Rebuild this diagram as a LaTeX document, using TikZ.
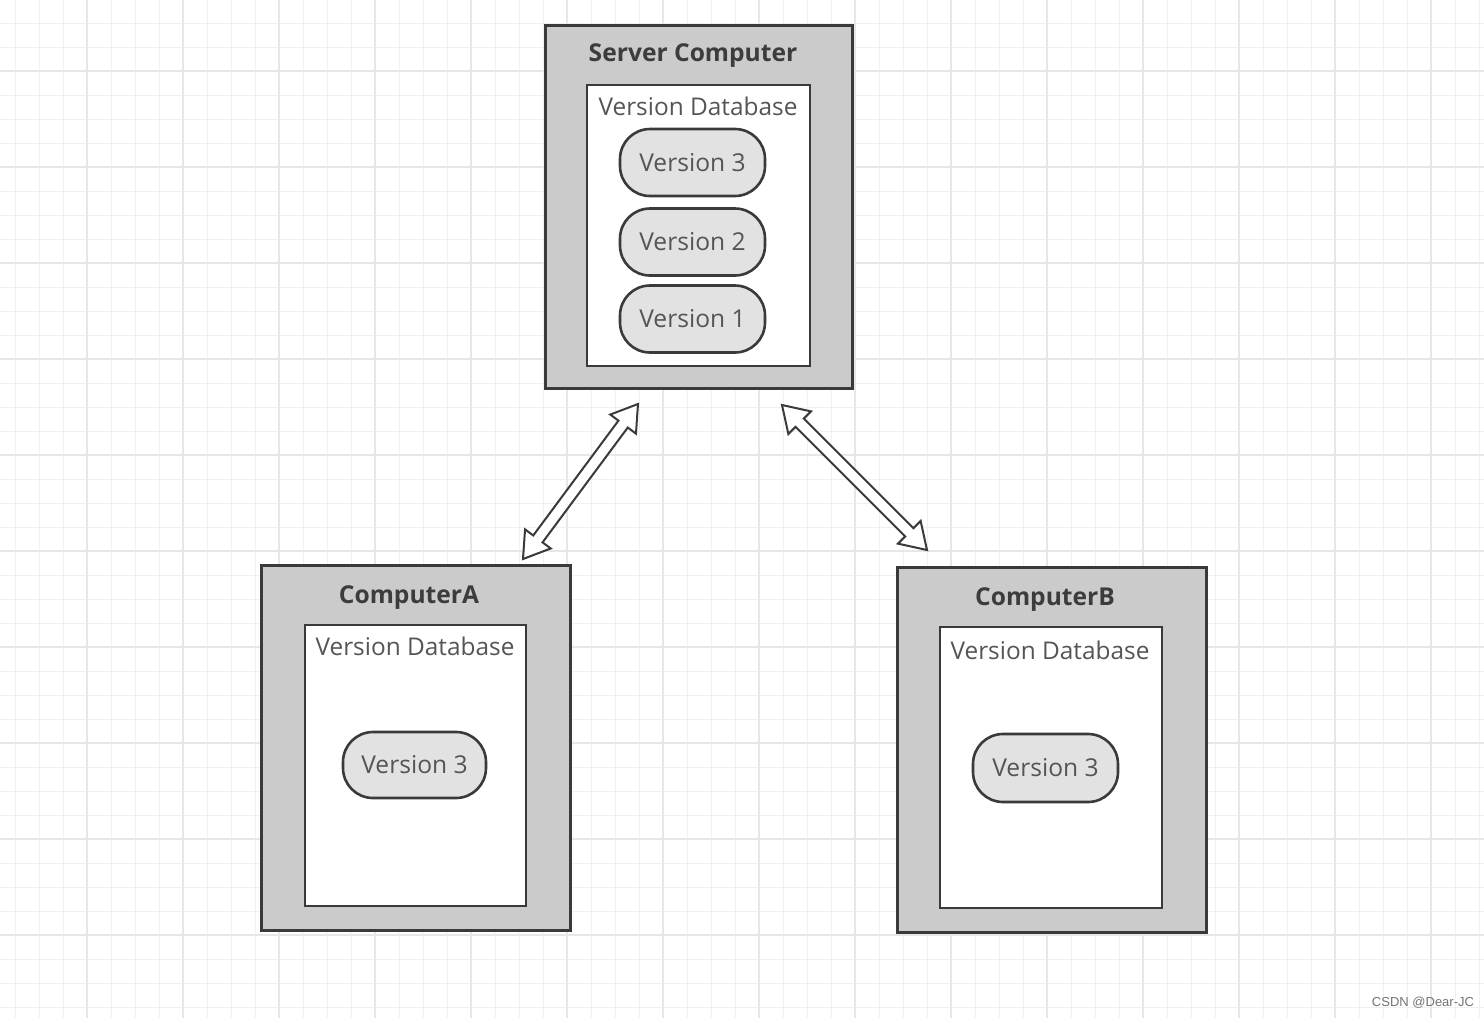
\documentclass[tikz,border=0pt]{standalone}
\usepackage{fontspec}
\setmainfont{Open Sans}
\newfontfamily\wmfont{Liberation Sans}
\usetikzlibrary{calc}
\definecolor{outergray}{HTML}{CBCBCB}
\definecolor{pillgray}{HTML}{E2E2E2}
\definecolor{boxline}{HTML}{3A3A3A}
\definecolor{txtgray}{HTML}{555555}
\definecolor{titlegray}{HTML}{3C3C3C}
\definecolor{gridminor}{HTML}{F0F0F0}
\definecolor{gridmajor}{HTML}{E7E7E7}
\tikzset{
  outerbox/.style={draw=boxline, fill=outergray, line width=1.5pt, inner sep=0pt},
  innerbox/.style={draw=boxline, fill=white, line width=1.3pt, inner sep=0pt},
  pill/.style={draw=boxline, fill=pillgray, line width=1.3pt, rounded corners=15pt, inner sep=0pt,
    font=\fontsize{12.3}{14}\selectfont, text=txtgray},
  titletext/.style={font=\fontsize{12.3}{14}\selectfont\bfseries, text=titlegray, inner sep=0pt},
  dbtext/.style={font=\fontsize{12.2}{14}\selectfont, text=txtgray, inner sep=0pt},
  hollow/.style={draw=boxline, fill=white, line width=1pt, line join=miter},
}
\newcommand\hollowarrow[2]{%
  \coordinate (#1-#2-h1) at ($(#1)!12.5pt!(#2)$);
  \coordinate (#1-#2-h2) at ($(#2)!12.5pt!(#1)$);
  \draw[hollow] (#1)
    -- ($(#1-#2-h1)!8pt!90:(#2)$) -- ($(#1-#2-h1)!2.9pt!90:(#2)$)
    -- ($(#1-#2-h2)!2.9pt!-90:(#1)$) -- ($(#1-#2-h2)!8pt!-90:(#1)$)
    -- (#2)
    -- ($(#1-#2-h2)!8pt!90:(#1)$) -- ($(#1-#2-h2)!2.9pt!90:(#1)$)
    -- ($(#1-#2-h1)!2.9pt!-90:(#2)$) -- ($(#1-#2-h1)!8pt!-90:(#2)$)
    -- cycle;}
\begin{document}
\begin{tikzpicture}[x=0.5pt,y=-0.5pt]
\useasboundingbox (0,0) rectangle (1484,1018);
\fill[white] (0,0) rectangle (1484,1018);
% grid
\foreach \gx in {15,39,...,1484} {\draw[gridminor, line width=0.5pt] (\gx,0) -- (\gx,1018);}
\foreach \gy in {23,47,...,1018} {\draw[gridminor, line width=0.5pt] (0,\gy) -- (1484,\gy);}
\foreach \gx in {87,183,...,1484} {\draw[gridmajor, line width=0.6pt] (\gx,0) -- (\gx,1018);}
\foreach \gy in {71,167,...,1018} {\draw[gridmajor, line width=0.6pt] (0,\gy) -- (1484,\gy);}

% Server
\node[outerbox, minimum width=153.5pt, minimum height=181.5pt] (server) at (698.5,206.5) {};
\node[titletext] (servertitle) at (693,56) {Server Computer};
\node[innerbox, minimum width=111.5pt, minimum height=140.5pt] (serverdb) at (698.5,225.5) {};
\node[dbtext] (serverdblabel) at (698,106) {Version Database};
\node[pill, minimum width=72.5pt, minimum height=33.5pt] (sv3) at (692.5,162.5) {Version 3};
\node[pill, minimum width=72.5pt, minimum height=33.5pt] (sv2) at (692.5,242) {Version 2};
\node[pill, minimum width=72.5pt, minimum height=33.5pt] (sv1) at (692.5,319) {Version 1};

% Computer A
\node[outerbox, minimum width=154.5pt, minimum height=182.5pt] (compA) at (415.5,747.5) {};
\node[titletext] (compAtitle) at (409,598) {ComputerA};
\node[innerbox, minimum width=110.5pt, minimum height=140.5pt] (compAdb) at (415.5,765.5) {};
\node[dbtext] (compAdblabel) at (415,646) {Version Database};
\node[pill, minimum width=71.5pt, minimum height=33pt] (av3) at (414.5,765) {Version 3};

% Computer B
\node[outerbox, minimum width=154.5pt, minimum height=182.5pt] (compB) at (1051.5,749.5) {};
\node[titletext] (compBtitle) at (1045,600) {ComputerB};
\node[innerbox, minimum width=111pt, minimum height=140.5pt] (compBdb) at (1051,767.5) {};
\node[dbtext] (compBdblabel) at (1050,650) {Version Database};
\node[pill, minimum width=72.5pt, minimum height=34pt] (bv3) at (1045.5,768) {Version 3};

% arrows
\coordinate (aA) at (523,559);
\coordinate (aS) at (638,404);
\coordinate (bS) at (782,405);
\coordinate (bB) at (927,550);
\hollowarrow{aA}{aS}
\hollowarrow{bS}{bB}

% watermark
\node[font=\wmfont\fontsize{6.5}{7}\selectfont, text=black!55, inner sep=0pt] (wm) at (1423,1003) {CSDN @Dear-JC};
\end{tikzpicture}
\end{document}
